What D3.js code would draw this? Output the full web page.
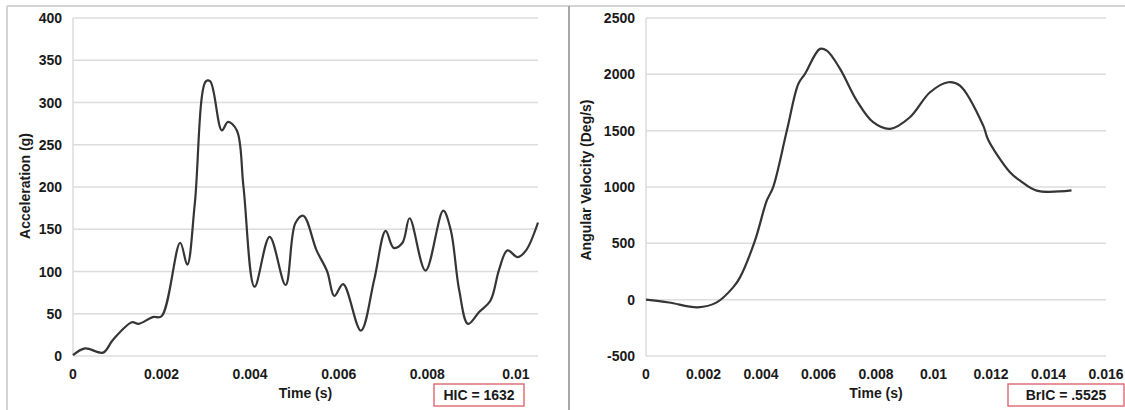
<!DOCTYPE html>
<html>
<head>
<meta charset="utf-8">
<script src="https://cdn.jsdelivr.net/npm/d3@7"></script>
<style>
  body { margin: 0; background: #fff; }
  text { font-family: "Liberation Sans", Arial, sans-serif; font-weight: bold; fill: #1a1a1a; }
</style>
</head>
<body>
<svg id="viz"></svg>
<script>
var width = 1125;
var height = 410;

// left panel: acceleration
var accTime = [0, 0.00027, 0.00068, 0.0009, 0.00133, 0.00148, 0.0018, 0.002, 0.00242, 0.00258, 0.00275,
               0.003, 0.0031, 0.00336, 0.0035, 0.0037, 0.00385, 0.0041, 0.00444, 0.0048, 0.00502, 0.0052,
               0.0055, 0.00574, 0.0059, 0.0061, 0.0065, 0.0068, 0.00706, 0.00724, 0.00744, 0.0076,
               0.00796, 0.00836, 0.00853, 0.00872, 0.00892, 0.00917, 0.00943, 0.00962, 0.00981,
               0.01004, 0.01023, 0.0105];
var accValue = [1, 9, 4, 19, 40, 38, 46, 47, 134, 108, 180,
                325, 325, 267, 277, 267, 200, 82, 141, 84, 157, 166,
                125, 100, 71, 85, 30, 90, 148, 128, 134, 163,
                101, 172, 149, 78, 38, 52, 66, 102, 125,
                117, 125, 158];
var accTicksY = [0, 50, 100, 150, 200, 250, 300, 350, 400];
var accTicksX = [0, 0.002, 0.004, 0.006, 0.008, 0.01];

// right panel: angular velocity
var avTime = [0, 0.0008, 0.0018, 0.00246, 0.00303, 0.00327, 0.00379, 0.0042, 0.00442, 0.0049, 0.0053,
              0.00553, 0.00605, 0.00629, 0.00675, 0.00733, 0.0079, 0.00849, 0.00918, 0.00988,
              0.01051, 0.01092, 0.01173, 0.0119, 0.01266, 0.01301, 0.01359, 0.0148];
var avValue = [0, -25, -68, -24, 109, 198, 524, 879, 997, 1501, 1916,
               2004, 2226, 2211, 2049, 1767, 1575, 1516, 1619, 1841,
               1930, 1900, 1545, 1420, 1131, 1057, 968, 970];
var avTicksY = [-500, 0, 500, 1000, 1500, 2000, 2500];
var avTicksX = [0, 0.002, 0.004, 0.006, 0.008, 0.01, 0.012, 0.014, 0.016];

var svg = d3.select("#viz")
    .attr("width", width)
    .attr("height", height);

// outer frame
svg.append("line").attr("x1", 7).attr("x2", width).attr("y1", 6).attr("y2", 6)
    .attr("stroke", "#d4d4d4").attr("stroke-width", 2);
svg.append("line").attr("x1", 7).attr("x2", 7).attr("y1", 6).attr("y2", height)
    .attr("stroke", "#d4d4d4").attr("stroke-width", 2);
svg.append("line").attr("x1", 569).attr("x2", 569).attr("y1", 6).attr("y2", height)
    .attr("stroke", "#a8a8a8").attr("stroke-width", 2);

function drawPanel(opt) {
    var x = d3.scaleLinear().domain(opt.xDomain).range([opt.left, opt.right]);
    var y = d3.scaleLinear().domain(opt.yDomain).range([356, 18]);
    var g = svg.append("g");

    g.selectAll(".grid").data(opt.yTicks).enter().append("line")
        .attr("x1", opt.left).attr("x2", opt.right)
        .attr("y1", function(d) { return y(d); })
        .attr("y2", function(d) { return y(d); })
        .attr("stroke", "#dcdcdc").attr("stroke-width", 1.5);

    g.append("line").attr("x1", opt.left).attr("x2", opt.left).attr("y1", 18).attr("y2", 356)
        .attr("stroke", "#dcdcdc").attr("stroke-width", 1.5);

    g.selectAll(".ylab").data(opt.yTicks).enter().append("text")
        .attr("x", opt.left - 11)
        .attr("y", function(d) { return y(d) + 5; })
        .attr("text-anchor", "end")
        .attr("font-size", 14)
        .text(function(d) { return d; });

    g.selectAll(".xlab").data(opt.xTicks).enter().append("text")
        .attr("x", function(d) { return x(d); })
        .attr("y", 379)
        .attr("text-anchor", "middle")
        .attr("font-size", 14)
        .text(function(d) { return d; });

    g.append("text")
        .attr("x", (opt.left + opt.right) / 2)
        .attr("y", 398)
        .attr("text-anchor", "middle")
        .attr("font-size", 14)
        .text("Time (s)");

    g.append("text")
        .attr("transform", "translate(" + opt.titleX + "," + opt.titleY + ") rotate(-90)")
        .attr("text-anchor", "middle")
        .attr("font-size", 14)
        .text(opt.yTitle);

    var line = d3.line()
        .x(function(d, i) { return x(opt.xs[i]); })
        .y(function(d) { return y(d); })
        .curve(d3.curveCatmullRom.alpha(0.5));

    g.append("path")
        .datum(opt.ys)
        .attr("d", line)
        .attr("fill", "none")
        .attr("stroke", "#353535")
        .attr("stroke-width", 2.2);

    g.append("rect")
        .attr("x", opt.box[0]).attr("y", 384)
        .attr("width", opt.box[1]).attr("height", 22)
        .attr("fill", "#fff")
        .attr("stroke", "#e0707a").attr("stroke-width", 1.5);
    g.append("text")
        .attr("x", opt.box[0] + opt.box[1] / 2)
        .attr("y", 400)
        .attr("text-anchor", "middle")
        .attr("font-size", 14)
        .text(opt.boxText);
}

drawPanel({
    left: 73, right: 538,
    xDomain: [0, 0.0105], yDomain: [0, 400],
    xTicks: accTicksX, yTicks: accTicksY,
    xs: accTime, ys: accValue,
    yTitle: "Acceleration (g)", titleX: 30, titleY: 186,
    box: [434, 90], boxText: "HIC = 1632"
});

drawPanel({
    left: 646, right: 1106,
    xDomain: [0, 0.016], yDomain: [-500, 2500],
    xTicks: avTicksX, yTicks: avTicksY,
    xs: avTime, ys: avValue,
    yTitle: "Angular Velocity (Deg/s)", titleX: 591, titleY: 180,
    box: [1008, 116], boxText: "BrIC = .5525"
});
</script>
</body>
</html>
